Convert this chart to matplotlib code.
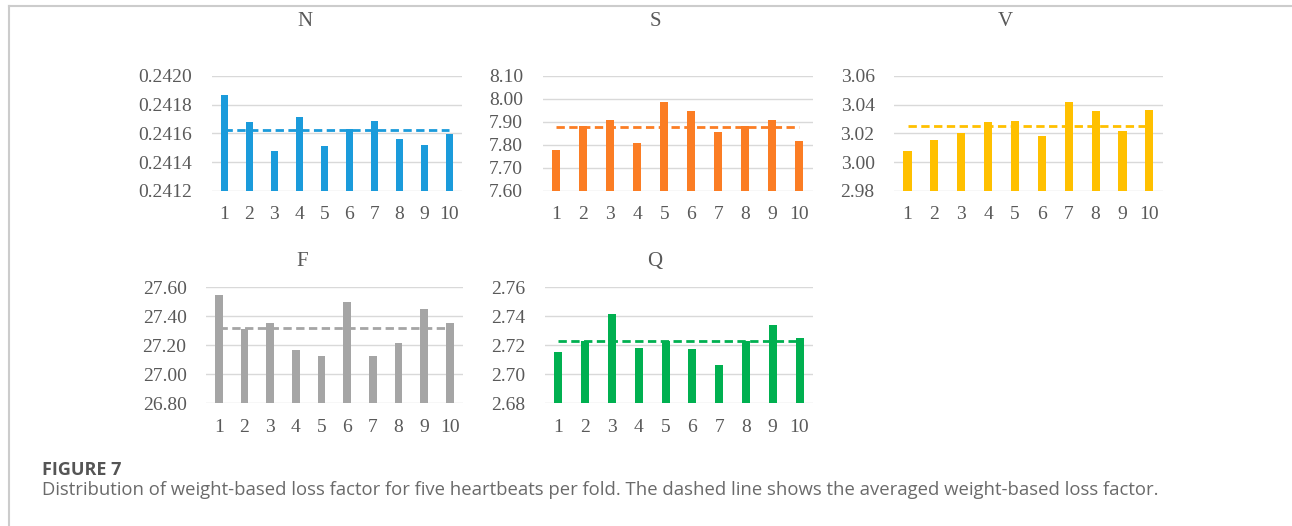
#!/usr/bin/env python3
import matplotlib
matplotlib.use("Agg")
import matplotlib.pyplot as plt
import numpy as np

plt.rcParams["font.family"] = ["Liberation Serif", "DejaVu Serif"]

folds = [str(i) for i in range(1, 11)]

# weight-based loss factor per fold, one list per heartbeat class
n_vals = [0.241866, 0.241676, 0.241475, 0.241716, 0.241512,
          0.241630, 0.241683, 0.241561, 0.241519, 0.241595]
s_vals = [7.778, 7.884, 7.909, 7.808, 7.988, 7.945, 7.857, 7.882, 7.909, 7.816]
v_vals = [3.0080, 3.0154, 3.0200, 3.0276, 3.0286, 3.0182, 3.0417, 3.0353, 3.0214, 3.0360]
f_vals = [27.547, 27.315, 27.356, 27.170, 27.124, 27.499, 27.124, 27.218, 27.453, 27.356]
q_vals = [2.7156, 2.7230, 2.7415, 2.7182, 2.7230, 2.7175, 2.7061, 2.7230, 2.7341, 2.7249]

n_ticks = [0.2412, 0.2414, 0.2416, 0.2418, 0.2420]
s_ticks = [7.60, 7.70, 7.80, 7.90, 8.00, 8.10]
v_ticks = [2.98, 3.00, 3.02, 3.04, 3.06]
f_ticks = [26.80, 27.00, 27.20, 27.40, 27.60]
q_ticks = [2.68, 2.70, 2.72, 2.74, 2.76]

panels = [
    # name, values, ticks, decimals, colour, axes rect, title position (px)
    ("N", n_vals, n_ticks, 4, "#1B9BDB", [0.1639, 0.6369, 0.1935, 0.2192], (305, 21)),
    ("S", s_vals, s_ticks, 2, "#FB7D24", [0.4200, 0.6369, 0.2092, 0.2192], (655, 21)),
    ("V", v_vals, v_ticks, 2, "#FFC000", [0.6920, 0.6369, 0.2080, 0.2192], (1005, 21)),
    ("F", f_vals, f_ticks, 2, "#A5A5A5", [0.1594, 0.2333, 0.1987, 0.2205], (302, 261)),
    ("Q", q_vals, q_ticks, 2, "#00B050", [0.4218, 0.2333, 0.2074, 0.2205], (655, 261)),
]

W, H = 1292, 526
fig = plt.figure(figsize=(W / 100, H / 100), dpi=100)
text_col = "#595959"

for name, vals, ticks, dec, col, rect, tpos in panels:
    ax = fig.add_axes(rect)
    x = np.arange(1, 11)
    ax.bar(x, np.array(vals) - ticks[0], bottom=ticks[0], width=0.3, color=col, zorder=2)
    mean = np.mean(vals)
    ax.plot([1, 10], [mean, mean], color=col, lw=2, dashes=(3, 1.6), zorder=3)
    ax.set_xlim(0.5, 10.5)
    ax.set_ylim(ticks[0], ticks[-1])
    ax.set_yticks(ticks)
    ax.set_yticklabels([f"{t:.{dec}f}" for t in ticks])
    ax.set_xticks(x)
    ax.set_xticklabels(folds)
    ax.grid(axis="y", color="#D9D9D9", lw=1, zorder=0)
    for sp in ax.spines.values():
        sp.set_visible(False)
    ax.tick_params(length=0, labelsize=14, labelcolor=text_col)
    ax.tick_params(axis="y", pad=14)
    ax.tick_params(axis="x", pad=11)
    fig.text(tpos[0] / W, 1 - tpos[1] / H, name, ha="center", va="center",
             fontsize=15, color=text_col)

# frame lines at the top and left edge
fig.add_artist(plt.Line2D([9 / W, 1], [1 - 6 / H, 1 - 6 / H], color="#CCCCCC", lw=1.5))
fig.add_artist(plt.Line2D([9 / W, 9 / W], [0, 1 - 6 / H], color="#CCCCCC", lw=1.5))

fig.text(42 / W, 1 - 470 / H, "FIGURE 7", fontsize=13, fontweight="bold",
         fontfamily="Open Sans", color="#555555", va="center")
fig.text(42 / W, 1 - 490 / H,
         "Distribution of weight-based loss factor for five heartbeats per fold. "
         "The dashed line shows the averaged weight-based loss factor.",
         fontsize=13.3, fontfamily="Open Sans", color="#6A6A6A", va="center")

fig.savefig("out.png", dpi=100, facecolor="white")
